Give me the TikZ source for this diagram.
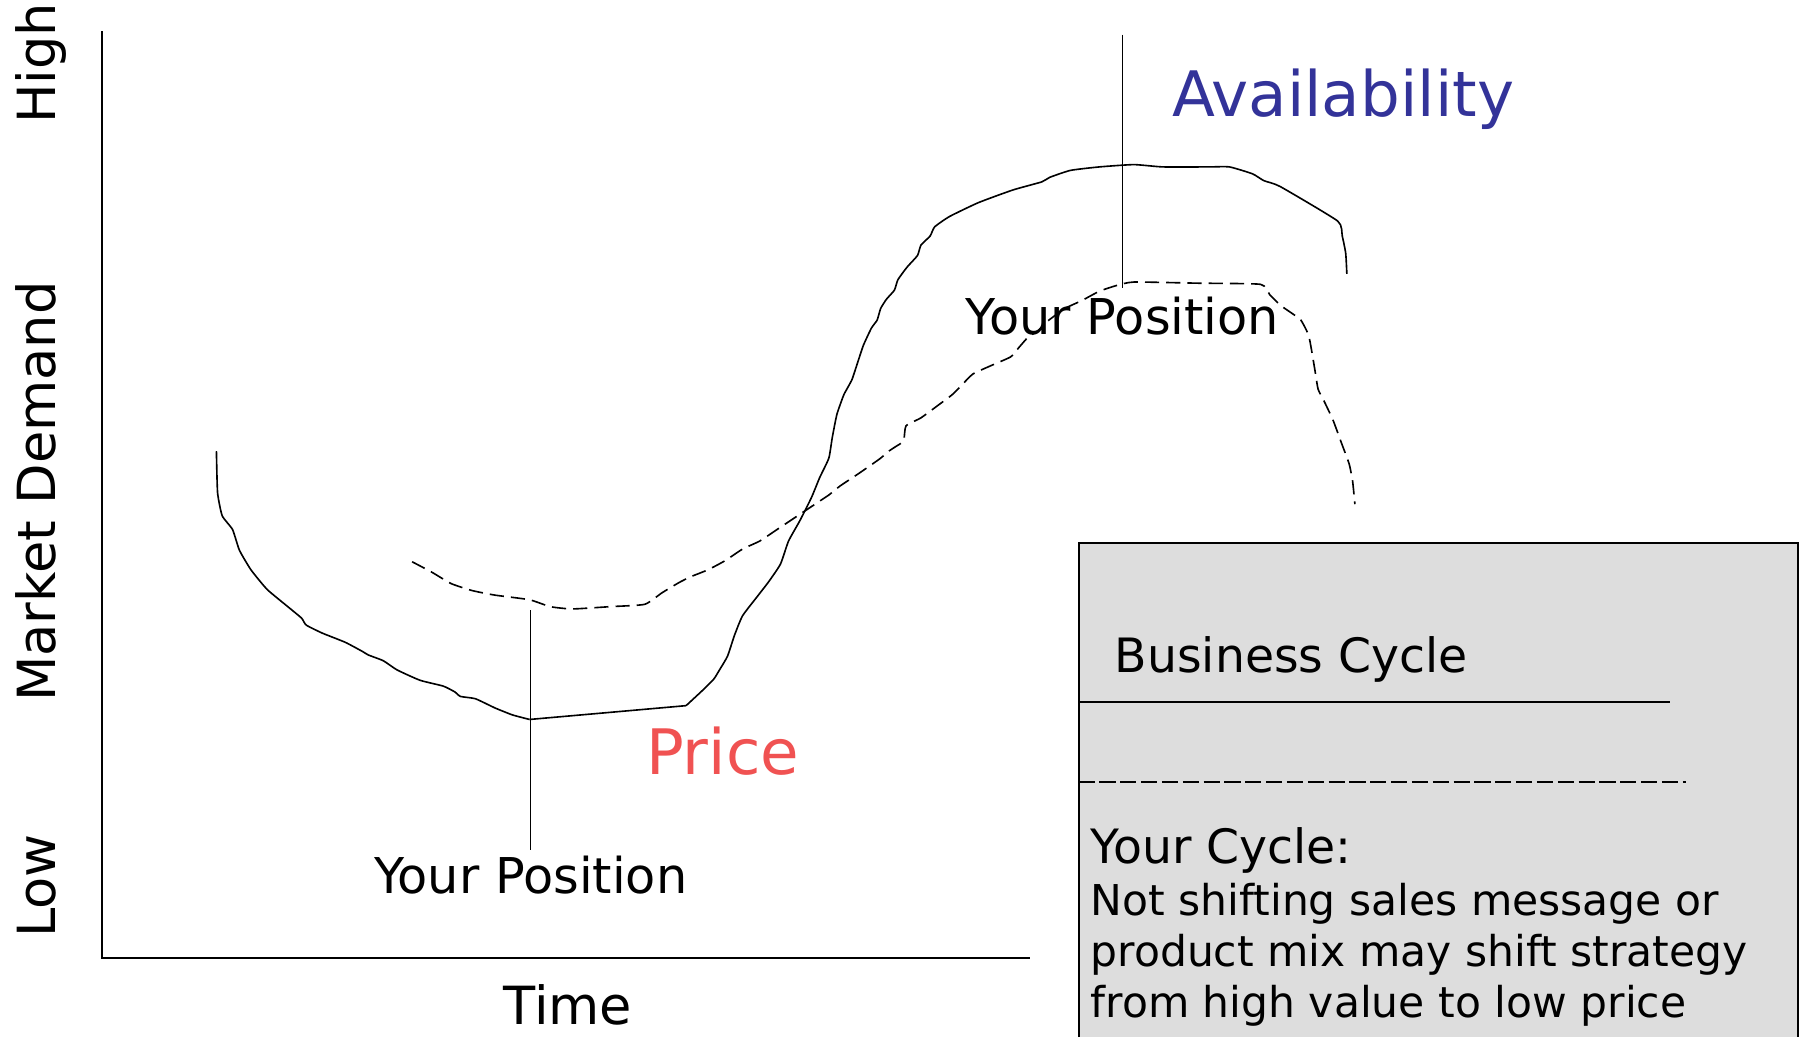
\documentclass[tikz,border=0pt]{standalone}
\usepackage{fontspec}
\setmainfont{DejaVu Sans}
\usetikzlibrary{positioning}

\definecolor{pricered}{RGB}{240,82,82}
\definecolor{availblue}{RGB}{51,51,153}
\definecolor{boxgray}{RGB}{221,221,221}

\begin{document}
\begin{tikzpicture}[x = 0.02cm, y = -0.02cm,
    every node/.style = { inner sep = 0pt, anchor = base west },
    axislabel/.style = { font = \fontsize{26}{30}\selectfont },
    poslabel/.style = { font = \fontsize{24.4}{28}\selectfont, anchor = base },
    curvelabel/.style = { font = \fontsize{31}{36}\selectfont },
    boxhead/.style = { font = \fontsize{23.4}{28}\selectfont },
    notetext/.style = { font = \fontsize{21}{25.5}\selectfont },
    axisline/.style = { line width = 1pt },
    solidcurve/.style = { line width = 0.8pt },
    dashcurve/.style = { line width = 0.8pt, dash pattern = on 7pt off 3.5pt }]

    \useasboundingbox (0,0) rectangle (1568,901);

    % axes
    \coordinate (ytop) at (89,27);
    \coordinate (origin) at (89,832);
    \coordinate (xend) at (895,832);
    \draw [axisline] (ytop) -- (origin) -- (xend);

    \node (high)   [axislabel, rotate = 90] at (48,108) { High };
    \node (demand) [axislabel, rotate = 90] at (48,610) { Market Demand };
    \node (low)    [axislabel, rotate = 90] at (48,815) { Low };
    \node (time)   [axislabel] at (437,890) { Time };

    % solid curve
    \draw [solidcurve] plot [smooth, tension = 0.3] coordinates {
      (188,392) (189,428) (193,448) (202,460) (208,478) (218,495) (232,512)
      (250,527) (262,537) (266,543) (280,550) (300,558) (315,566) (320,569)
      (333,574) (345,582) (365,591) (385,596) (395,601) (400,605) (413,607)
      (430,615) (445,621) (460,625) };
    \draw [solidcurve] (460,625) -- (596,613);
    \draw [solidcurve] plot [smooth, tension = 0.3] coordinates {
      (596,613) (610,600) (620,590) (625,582) (632,570) (638,552) (645,535)
      (658,518) (668,505) (678,490) (685,470) (695,452) (705,432) (712,415)
      (720,398) (723,380) (727,360) (733,343) (740,330) (745,315) (750,300)
      (757,285) (762,278) (765,268) (770,260) (777,252) (780,243) (788,232)
      (797,222) (800,213) (808,205) (812,197) (825,188) (850,176) (880,165)
      (905,158) (912,154) (930,148) (955,145) (985,143) (1010,145) (1050,145)
      (1068,145) (1088,151) (1098,157) (1112,162) (1162,192) (1166,205)
      (1169,220) (1170,238) };

    % dashed curve
    \draw [dashcurve] plot [smooth, tension = 0.3] coordinates {
      (358,488) (375,497) (392,507) (410,513) (430,517) (460,521) (478,527)
      (497,529) (530,527) (560,525) (575,515) (590,506) (600,501) (615,495)
      (630,487) (645,477) (660,470) (675,460) (690,450) (705,440) (720,430)
      (730,422) (745,412) (758,403) (765,398) (772,392) (778,388) (785,383)
      (787,370) (800,363) (815,352) (827,343) (835,335) (845,325) (860,318)
      (878,310) (885,302) (893,293) (902,287) (910,279) (925,268) (940,261)
      (955,253) (970,248) (985,245) (1040,246) (1095,247) (1103,256)
      (1112,265) (1122,272) (1130,278) (1137,292) (1142,320) (1145,338)
      (1150,348) (1158,365) (1165,384) (1172,403) (1175,418) (1177,438) };

    \node (price) [curvelabel, text = pricered] at (561,673) { Price };
    \node (avail) [curvelabel, text = availblue] at (1018,101) { Availability };

    % position markers
    \node (lowpos)  [poslabel] at (461,776) { Your Position };
    \node (highpos) [poslabel] at (975,291) { Your Position };
    \coordinate (lowtick) at (461,530);
    \coordinate (lowfoot) at (461,738);
    \coordinate (hightick) at (975,30);
    \coordinate (highfoot) at (975,250);
    \draw [solidcurve] (lowtick) -- (lowfoot);
    \draw [solidcurve] (hightick) -- (highfoot);

    % legend box
    \fill [boxgray] (937,472) rectangle (1562,901);
    \draw [axisline] (937,901) -- (937,472) -- (1562,472) -- (1562,901);
    \node (bizcycle) [boxhead] at (968,584) { Business Cycle };
    \draw [axisline] (937,610) -- (1451,610);
    \draw [axisline, dash pattern = on 8pt off 2.3pt] (937,679) -- (1465,679);
    \node (yourcycle) [boxhead] at (947,750) { Your Cycle: };
    \node (note1) [notetext] at (947,795) { Not shifting sales message or };
    \node (note2) [notetext] at (947,840) { product mix may shift strategy };
    \node (note3) [notetext] at (947,884) { from high value to low price };

\end{tikzpicture}
\end{document}
